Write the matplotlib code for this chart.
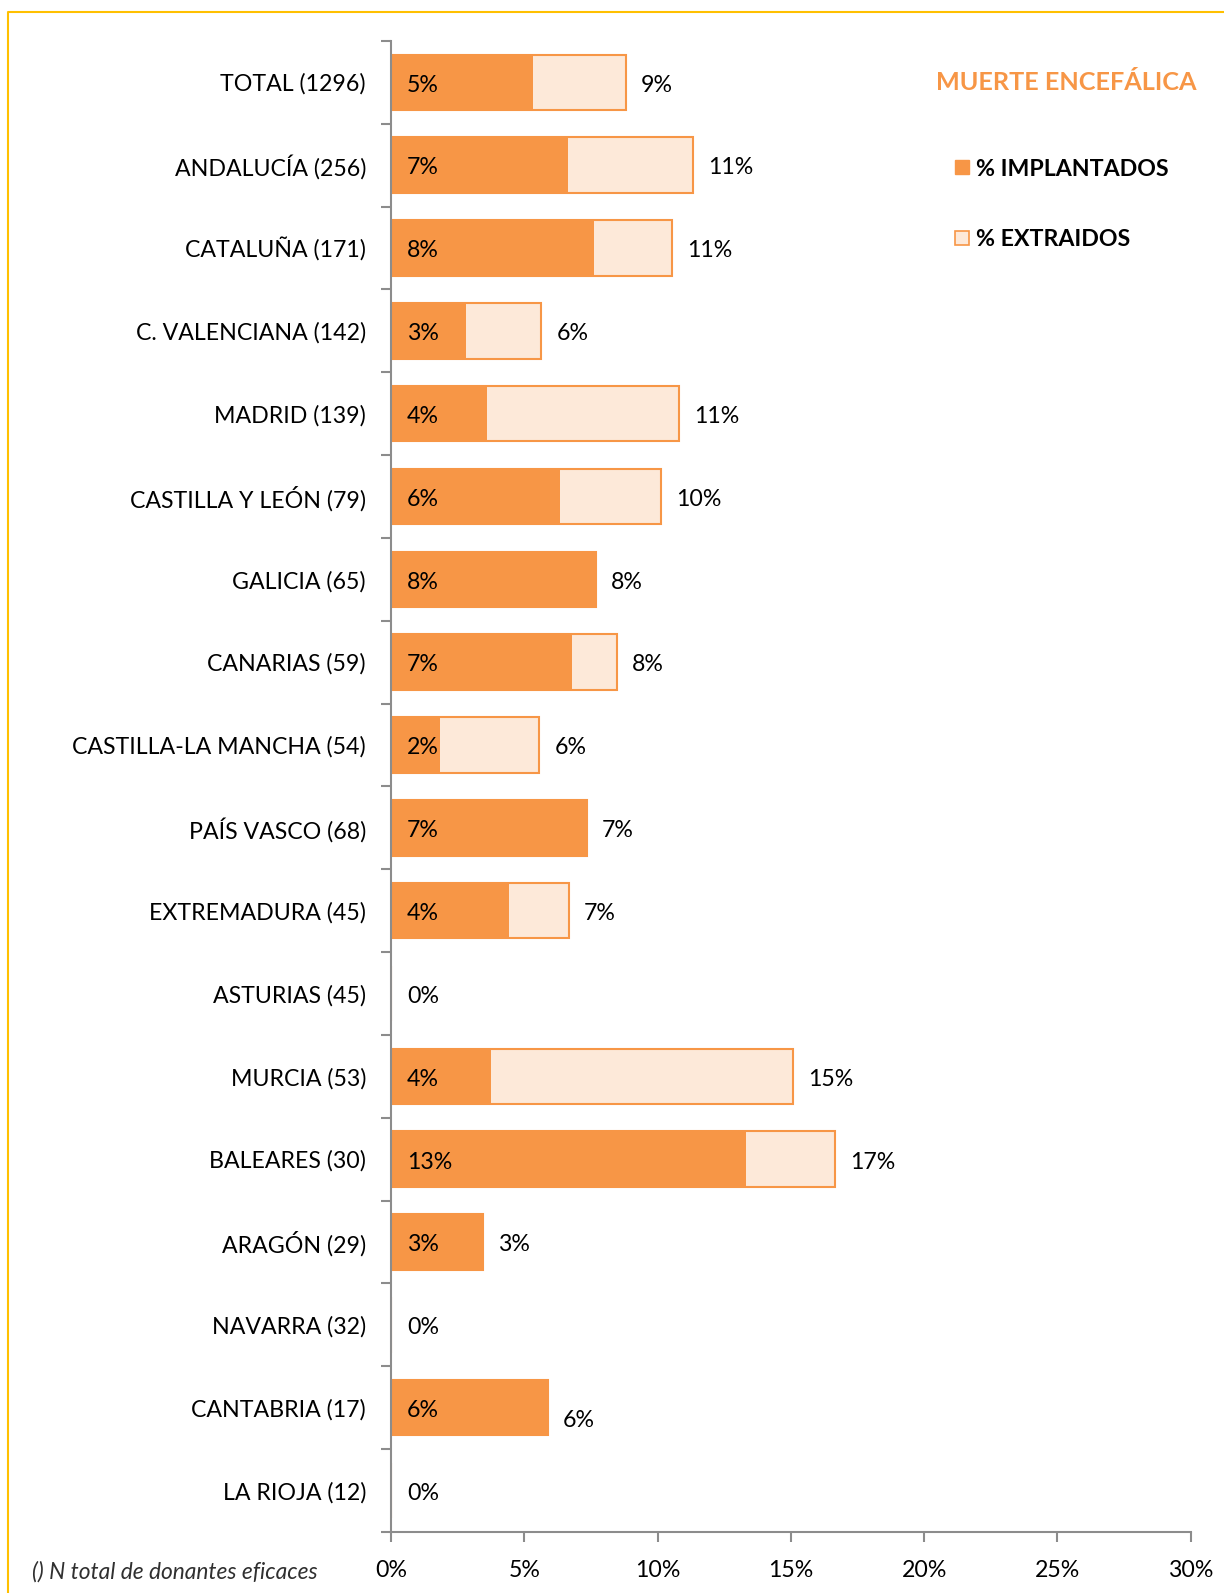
import numpy as np
import matplotlib
matplotlib.use('Agg')
import matplotlib.pyplot as plt
from matplotlib.lines import Line2D
from matplotlib.patches import Rectangle

plt.rcParams['font.family'] = ['Lato', 'DejaVu Sans']

# datos (porcentajes)
categorias = ['TOTAL (1296)', 'ANDALUCÍA (256)', 'CATALUÑA (171)', 'C. VALENCIANA (142)',
              'MADRID (139)', 'CASTILLA Y LEÓN (79)', 'GALICIA (65)', 'CANARIAS (59)',
              'CASTILLA-LA MANCHA (54)', 'PAÍS VASCO (68)', 'EXTREMADURA (45)', 'ASTURIAS (45)',
              'MURCIA (53)', 'BALEARES (30)', 'ARAGÓN (29)', 'NAVARRA (32)', 'CANTABRIA (17)',
              'LA RIOJA (12)']
implantados = [5.32, 6.64, 7.60, 2.82, 3.60, 6.33, 7.69, 6.78, 1.85, 7.35, 4.44, 0.0,
               3.77, 13.33, 3.45, 0.0, 5.88, 0.0]
extraidos = [8.80, 11.33, 10.53, 5.63, 10.79, 10.13, 7.69, 8.47, 5.56, 7.35, 6.67, 0.0,
             15.09, 16.67, 3.45, 0.0, 5.88, 0.0]
xticks = [0, 5, 10, 15, 20, 25, 30]

naranja = '#F79646'
claro = '#FDE9D9'
gris = '#8C8C8C'
fs = 16.7

fig = plt.figure(figsize=(12.24, 15.93), dpi=100)
ax = fig.add_axes([391/1224, 1-1532/1593, (1190.6-391)/1224, (1532-40.9)/1593])

y = np.arange(len(categorias))
h = 0.67
ax.barh(y, extraidos, height=h, color=claro, edgecolor=naranja, linewidth=1.5)
ax.barh(y, implantados, height=h, color=naranja, edgecolor=naranja, linewidth=0)

for i in range(len(categorias)):
    ax.annotate('%d%%' % round(implantados[i]), xy=(0, i), xytext=(11.5, -2),
                textcoords='offset points', va='center', ha='left', fontsize=fs)
    if extraidos[i] > 0:
        dy = -9 if categorias[i].startswith('CANTABRIA') else -2
        ax.annotate('%d%%' % round(extraidos[i]), xy=(extraidos[i], i), xytext=(11, dy),
                    textcoords='offset points', va='center', ha='left', fontsize=fs)

ax.set_ylim(len(categorias) - 0.5, -0.5)
ax.set_xlim(0, 30)
ax.set_yticks(y)
ax.set_yticklabels(categorias, fontsize=fs)
ax.set_yticks(np.arange(-0.5, len(categorias), 1), minor=True)
ax.tick_params(axis='y', which='major', length=0, pad=18)
ax.tick_params(axis='y', which='minor', length=7, width=1.5, color=gris, direction='out')
ax.set_xticks(xticks)
ax.set_xticklabels(['%d%%' % t for t in xticks], fontsize=fs)
ax.tick_params(axis='x', length=7, width=1.5, color=gris, direction='out', pad=13)
for s in ['top', 'right']:
    ax.spines[s].set_visible(False)
for s in ['left', 'bottom']:
    ax.spines[s].set_color(gris)
    ax.spines[s].set_linewidth(1.5)

# leyenda
fig.text(1196/1224, 1-83/1593, 'MUERTE ENCEFÁLICA', color=naranja, fontsize=18.2,
         fontweight='bold', ha='right', va='center')
fig.patches.append(Rectangle((955/1224, 1-174/1593), 14/1224, 14/1593, facecolor=naranja,
                             edgecolor=naranja, transform=fig.transFigure, figure=fig))
fig.patches.append(Rectangle((955/1224, 1-245/1593), 14/1224, 14/1593, facecolor=claro,
                             edgecolor=naranja, linewidth=1.2, transform=fig.transFigure, figure=fig))
fig.text(976/1224, 1-169/1593, '% IMPLANTADOS', fontsize=fs, fontweight='bold', va='center')
fig.text(976/1224, 1-240/1593, '% EXTRAIDOS', fontsize=fs, fontweight='bold', va='center')

fig.text(32/1224, 1-1572/1593, '() N total de donantes eficaces', fontsize=16.4,
         style='italic', color='#303030', va='center')

# marco amarillo
fig.lines.append(Line2D([8/1224, 8/1224, 1], [0, 1-12/1593, 1-12/1593],
                        color='#FFC000', linewidth=1.5, transform=fig.transFigure, figure=fig))

fig.savefig('out.png', dpi=100)
